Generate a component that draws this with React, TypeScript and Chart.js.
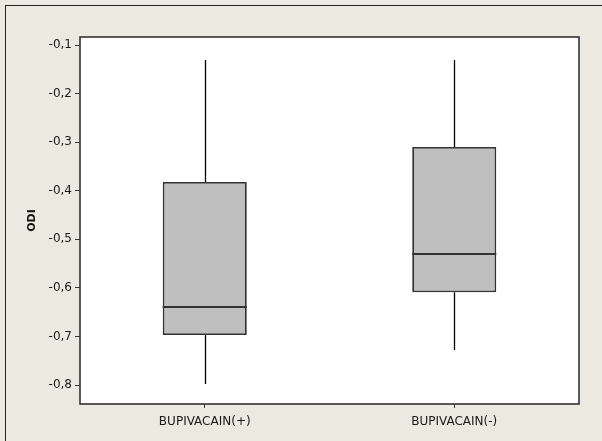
import React, { useEffect, useRef } from 'react';
import { Chart, registerables } from 'chart.js';

Chart.register(...registerables);

const categories = ['BUPIVACAIN(+)', 'BUPIVACAIN(-)'];
const whiskerLow = [-0.798, -0.728];
const q1 = [-0.697, -0.609];
const median = [-0.639, -0.53];
const q3 = [-0.382, -0.31];
const whiskerHigh = [-0.131, -0.131];
const yTicks = [-0.1, -0.2, -0.3, -0.4, -0.5, -0.6, -0.7, -0.8];
const yMin = -0.839;
const yMax = -0.0835;
const yTitle = 'ODI';

const FONT = '"DejaVu Sans", Tahoma, sans-serif';

const boxPlugin = {
  id: 'boxExtras',
  beforeDraw(chart: any) {
    const { ctx, chartArea: a } = chart;
    ctx.save();
    ctx.fillStyle = '#ffffff';
    ctx.fillRect(a.left, a.top, a.right - a.left, a.bottom - a.top);
    ctx.restore();
  },
  beforeDatasetsDraw(chart: any) {
    const { ctx } = chart;
    const x = chart.scales.x;
    const y = chart.scales.y;
    ctx.save();
    ctx.strokeStyle = '#000000';
    ctx.lineWidth = 1.3;
    categories.forEach((_, i) => {
      const px = Math.round(x.getPixelForValue(i)) + 0.5;
      ctx.beginPath();
      ctx.moveTo(px, y.getPixelForValue(whiskerHigh[i]));
      ctx.lineTo(px, y.getPixelForValue(q3[i]));
      ctx.moveTo(px, y.getPixelForValue(q1[i]));
      ctx.lineTo(px, y.getPixelForValue(whiskerLow[i]));
      ctx.stroke();
    });
    ctx.restore();
  },
  afterDatasetsDraw(chart: any) {
    const { ctx, chartArea: a } = chart;
    const y = chart.scales.y;
    const meta = chart.getDatasetMeta(0);
    ctx.save();
    ctx.strokeStyle = '#333333';
    ctx.lineWidth = 2;
    meta.data.forEach((el: any, i: number) => {
      const py = Math.round(y.getPixelForValue(median[i]));
      ctx.beginPath();
      ctx.moveTo(el.x - el.width / 2, py);
      ctx.lineTo(el.x + el.width / 2, py);
      ctx.stroke();
    });
    ctx.strokeStyle = '#333333';
    ctx.lineWidth = 1.6;
    ctx.strokeRect(a.left, a.top, a.right - a.left, a.bottom - a.top);
    ctx.restore();
  },
};

export default function App() {
  const ref = useRef<HTMLCanvasElement>(null);

  useEffect(() => {
    if (!ref.current) return;
    const chart = new Chart(ref.current, {
      type: 'bar',
      data: {
        labels: categories,
        datasets: [
          {
            data: categories.map((_, i) => [q1[i], q3[i]]) as any,
            backgroundColor: '#bfbfbf',
            borderColor: '#333333',
            borderWidth: 1.8,
            borderSkipped: false,
            categoryPercentage: 1,
            barPercentage: 0.337,
          },
        ],
      },
      options: {
        animation: false,
        responsive: false,
        layout: { padding: { left: 0, top: 37, right: 23, bottom: 0 } },
        plugins: {
          legend: { display: false },
          tooltip: { enabled: false },
        },
        scales: {
          x: {
            type: 'category',
            offset: true,
            afterFit: (s: any) => {
              s.height = 37;
            },
            grid: {
              offset: false,
              drawOnChartArea: false,
              drawTicks: true,
              tickLength: 4,
              color: '#333333',
            },
            border: { display: false },
            ticks: {
              font: { family: FONT, size: 12 },
              color: '#1a1a1a',
              padding: 7,
              maxRotation: 0,
            },
          },
          y: {
            type: 'linear',
            min: yMin,
            max: yMax,
            afterFit: (s: any) => {
              s.width = 80;
            },
            afterBuildTicks: (s: any) => {
              s.ticks = yTicks.map((v) => ({ value: v }));
            },
            grid: {
              drawOnChartArea: false,
              drawTicks: true,
              tickLength: 5,
              color: '#333333',
            },
            border: { display: false },
            ticks: {
              font: { family: FONT, size: 12 },
              color: '#1a1a1a',
              padding: 3,
              callback: (v: any) => Number(v).toFixed(1).replace('.', ','),
            },
            title: {
              display: true,
              text: yTitle,
              font: { family: FONT, size: 11, weight: 'bold' },
              color: '#111111',
              padding: { top: 26, bottom: 0 },
            },
          },
        },
      },
      plugins: [boxPlugin],
    });
    return () => chart.destroy();
  }, []);

  return (
    <div
      style={{
        position: 'absolute',
        left: 0,
        top: 0,
        width: 602,
        height: 441,
        background: '#ece9e0',
        overflow: 'hidden',
      }}
    >
      <div
        style={{
          position: 'absolute',
          left: 5,
          top: 5,
          right: 0,
          bottom: 0,
          borderTop: '1.5px solid #222',
          borderLeft: '1.5px solid #222',
        }}
      />
      <canvas
        ref={ref}
        width={602}
        height={441}
        style={{ position: 'absolute', left: 0, top: 0 }}
      />
    </div>
  );
}
